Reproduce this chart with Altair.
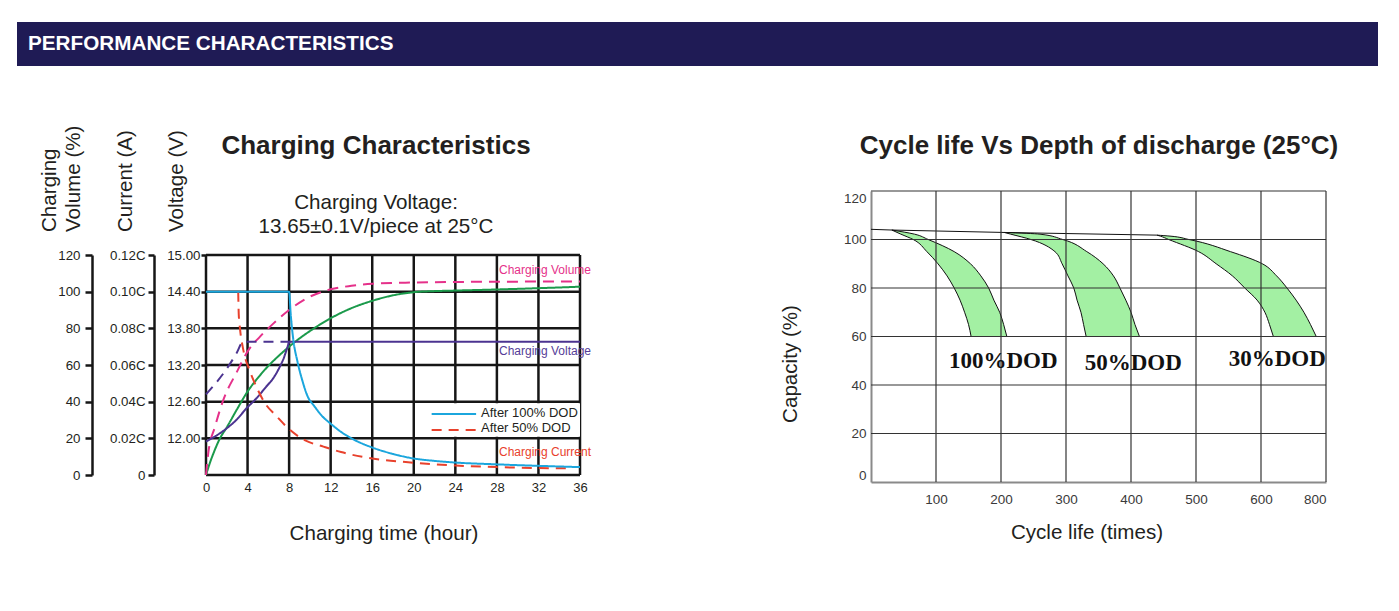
import altair as alt
import pandas as pd

SANS = "Liberation Sans, Arial, Helvetica, sans-serif"
NARROW = "Liberation Sans Narrow, Arial Narrow, Liberation Sans, Arial, sans-serif"
SERIF = "Liberation Serif, Times New Roman, serif"
INK = "#231f20"

# ---------------- texts ----------------
HEADER = "PERFORMANCE CHARACTERISTICS"
LEFT_TITLE = "Charging Characteristics"
LEFT_SUB = ["Charging Voltage:", "13.65\u00b10.1V/piece at 25\u00b0C"]
LEFT_XTITLE = "Charging time (hour)"
LEFT_YTITLES = ["Charging", "Volume (%)", "Current (A)", "Voltage (V)"]
RIGHT_TITLE = "Cycle life Vs Depth of discharge (25\u00b0C)"
RIGHT_XTITLE = "Cycle life (times)"
RIGHT_YTITLE = "Capacity (%)"

# ---------------- left chart data ----------------
HOUR_TICKS = [0, 4, 8, 12, 16, 20, 24, 28, 32, 36]
LEVEL_TICKS = [0, 20, 40, 60, 80, 100, 120]
VOLUME_LABELS = ["0", "20", "40", "60", "80", "100", "120"]
CURRENT_LABELS = ["0", "0.02C", "0.04C", "0.06C", "0.08C", "0.10C", "0.12C"]
VOLTAGE_LABELS = ["", "12.00", "12.60", "13.20", "13.80", "14.40", "15.00"]

SERIES = ["vol100", "vol50", "volt100", "volt50", "cur50", "cur100"]
SERIES_COLORS = ["#1b9a4b", "#e5318a", "#4b3390", "#4b3390", "#e8412c", "#1ba6dd"]
SERIES_DASH = [[1, 0], [11, 7], [1, 0], [10, 7], [10, 7], [1, 0]]

CUR100_H = [0, 8, 8.15, 8.4, 8.8, 9.3, 9.7, 10.5, 11.2, 12, 13, 14, 16, 18, 20, 22, 24, 28, 32, 36]
CUR100_V = [100, 100, 88, 74, 62, 51, 44, 37, 32, 28, 23.5, 20, 15, 11.5, 9, 7.7, 6.8, 5.8, 5, 4.3]
CUR50_H = [3.1, 3.15, 3.27, 3.6, 4.2, 4.7, 5.7, 6.8, 8.1, 9.5, 11.3, 13, 16, 20, 24, 28, 32, 35]
CUR50_V = [100, 88, 80, 68, 57, 50, 39, 32, 24.5, 19, 15.5, 12.5, 9, 6.7, 5.2, 4.3, 3.8, 3.6]
VOL100_H = [0, 0.4, 0.8, 1.3, 2, 3, 4, 5, 6, 7, 8, 9, 10, 12, 14, 16, 18, 20, 22, 24, 28, 32, 36]
VOL100_V = [0, 7, 13, 19.5, 26, 36, 45.5, 53, 59.5, 65, 70, 74.5, 78.5, 85.5, 91, 95, 98, 99.7, 100.3, 100.6, 101.2, 101.9, 102.7]
VOL50_H = [0, 0.22, 0.87, 1.67, 2.95, 4.07, 5.2, 6.5, 8, 9.7, 12, 14, 16, 20, 24, 28, 32, 36]
VOL50_V = [0, 12, 26.4, 41, 56, 68, 75.5, 82.7, 90, 96.4, 101.3, 103.2, 104.3, 105, 105.3, 105.4, 105.5, 105.5]
VOLT100_H = [0, 1, 2, 3, 3.9, 4.8, 5.8, 6.5, 7.1, 7.5, 7.8, 8.05, 12, 16, 20, 24, 28, 32, 36]
VOLT100_V = [18.2, 21.5, 25.5, 30.5, 36.4, 41.5, 48.2, 53, 59, 64, 69, 72.7, 72.7, 72.7, 72.7, 72.7, 72.7, 72.7, 72.7]
VOLT50_H = [0, 1, 2, 2.9, 3.6, 8.05]
VOLT50_V = [44, 50.5, 58, 66, 72.7, 72.7]

CURVE_LABELS = ["Charging Volume", "Charging Voltage", "Charging Current"]
CURVE_LABEL_H = [28.2, 28.2, 28.2]
CURVE_LABEL_V = [112, 67.4, 12.8]
CURVE_LABEL_COLORS = ["#e5318a", "#553c97", "#e8412c"]

LEGEND_TEXT = ["After 100% DOD", "After 50% DOD"]
LEGEND_SERIES = ["cur100", "cur50"]
LEGEND_V = [33.3, 24.5]
LEGEND_TEXT_V = [33.8, 25.6]
LEGEND_H = [21.72, 26.0, 26.47]
LEGEND_BOX = [21.3, 36, 20.8, 39.2]

# ---------------- right chart data ----------------
CAP_TICKS = [0, 20, 40, 60, 80, 100, 120]
CYCLE_TICKS = [0, 100, 200, 300, 400, 500, 600, 700]
CYCLE_LABELS = ["", "100", "200", "300", "400", "500", "600", "800"]

B100_CAP = [103.9, 102.2, 100, 95, 90, 85, 80, 75, 70, 65, 60]
B100_INNER = [32, 46, 65, 86, 103, 117, 128, 137, 144, 150, 154]
B100_OUTER = [32, 67, 88, 128, 153, 169, 181, 189, 198, 204, 209]
B50_CAP = [102.9, 102.2, 100, 95, 90, 85, 80, 75, 70, 65, 60]
B50_INNER = [205, 215, 246, 283, 294, 303, 312, 317, 323, 327, 331]
B50_OUTER = [205, 260, 295, 332, 357, 373, 383, 392, 400, 406, 413]
B30_CAP = [101.8, 101.4, 100, 95, 90, 85, 80, 75, 70, 65, 60]
B30_INNER = [440, 445, 458, 504, 531, 556, 575, 594, 606, 613, 619]
B30_OUTER = [440, 460, 489, 553, 602, 624, 640, 654, 666, 676, 685]
TOP_X = [0, 32, 205, 440]
TOP_Y = [104.2, 103.9, 102.9, 101.8]

DOD_TEXT = ["100%DOD", "50%DOD", "30%DOD"]
DOD_X = [203.5, 403.5, 625]
DOD_Y = [47, 46.2, 47.8]

# ---------------- scales (pixel placement of the two plots) ----------------
L_X = alt.Scale(domain=[0, 36], range=[206, 580], nice=False, zero=False)
L_Y = alt.Scale(domain=[0, 120], range=[475, 255], nice=False, zero=False)
R_X = alt.Scale(domain=[0, 700], range=[871, 1326], nice=False, zero=False)
R_Y = alt.Scale(domain=[0, 120], range=[482, 191], nice=False, zero=False)
W, H = 1399, 611
TXT = 20.6


def label_expr(values, labels):
    vals = ",".join(str(v) for v in values)
    labs = ",".join("'" + s + "'" for s in labels)
    return "[" + labs + "][indexof([" + vals + "], datum.value)]"


def txt(s, x, y, size, weight="normal", color=INK, angle=0, align="center",
        baseline="alphabetic", font=SANS):
    props = dict(fontSize=size, fontWeight=weight, color=color, align=align,
                 baseline=baseline, font=font)
    if angle:
        props["angle"] = angle
    return alt.Chart(pd.DataFrame({"t": [s]})).mark_text(**props).encode(
        text="t:N", x=alt.value(x), y=alt.value(y))


def y_axis_layer(values, scale, axis):
    return alt.Chart(pd.DataFrame({"v": values})).mark_point(opacity=0).encode(
        y=alt.Y("v:Q", scale=scale, axis=axis))


def x_axis_layer(values, scale, axis):
    return alt.Chart(pd.DataFrame({"v": values})).mark_point(opacity=0).encode(
        x=alt.X("v:Q", scale=scale, axis=axis))


# ---------------- left chart ----------------
gv = pd.DataFrame({"h": HOUR_TICKS, "lo": 0, "hi": 120})
left_gv = alt.Chart(gv).mark_rule(color="#161616", strokeWidth=2.5).encode(
    x=alt.X("h:Q", scale=L_X, axis=None),
    y=alt.Y("lo:Q", scale=L_Y, axis=None), y2="hi:Q")

gh = pd.DataFrame({"v": LEVEL_TICKS, "lo": 0, "hi": 36})
left_gh = alt.Chart(gh).mark_rule(color="#161616", strokeWidth=2.5).encode(
    y=alt.Y("v:Q", scale=L_Y, axis=None),
    x=alt.X("lo:Q", scale=L_X, axis=None), x2="hi:Q")

box = pd.DataFrame({"x1": [LEGEND_BOX[0]], "x2": [LEGEND_BOX[1]],
                    "y1": [LEGEND_BOX[2]], "y2": [LEGEND_BOX[3]]})
legend_box = alt.Chart(box).mark_rect(color="white").encode(
    x=alt.X("x1:Q", scale=L_X, axis=None), x2="x2:Q",
    y=alt.Y("y1:Q", scale=L_Y, axis=None), y2="y2:Q")

rows = []
for name, hs, vs in [("vol100", VOL100_H, VOL100_V), ("vol50", VOL50_H, VOL50_V),
                     ("volt100", VOLT100_H, VOLT100_V), ("volt50", VOLT50_H, VOLT50_V),
                     ("cur50", CUR50_H, CUR50_V), ("cur100", CUR100_H, CUR100_V)]:
    for h, v in zip(hs, vs):
        rows.append({"series": name, "h": h, "v": v})
curve_df = pd.DataFrame(rows)

color_scale = alt.Scale(domain=SERIES, range=SERIES_COLORS)
dash_scale = alt.Scale(domain=SERIES, range=SERIES_DASH)

curves = alt.Chart(curve_df).mark_line(strokeWidth=2, interpolate="monotone").encode(
    x=alt.X("h:Q", scale=L_X, axis=None),
    y=alt.Y("v:Q", scale=L_Y, axis=None),
    color=alt.Color("series:N", scale=color_scale, legend=None),
    strokeDash=alt.StrokeDash("series:N", scale=dash_scale, legend=None),
    detail="series:N")

curve_label_layers = []
for s, h, v, c in zip(CURVE_LABELS, CURVE_LABEL_H, CURVE_LABEL_V, CURVE_LABEL_COLORS):
    curve_label_layers.append(
        alt.Chart(pd.DataFrame({"t": [s], "h": [h], "v": [v]})).mark_text(
            align="left", baseline="middle", font=SANS, fontSize=12, color=c).encode(
            text="t:N", x=alt.X("h:Q", scale=L_X, axis=None),
            y=alt.Y("v:Q", scale=L_Y, axis=None)))

leg_df = pd.DataFrame({"series": LEGEND_SERIES, "h1": LEGEND_H[0], "h2": LEGEND_H[1],
                       "v": LEGEND_V})
legend_lines = alt.Chart(leg_df).mark_rule(strokeWidth=2).encode(
    x=alt.X("h1:Q", scale=L_X, axis=None), x2="h2:Q",
    y=alt.Y("v:Q", scale=L_Y, axis=None),
    color=alt.Color("series:N", scale=color_scale, legend=None),
    strokeDash=alt.StrokeDash("series:N", scale=dash_scale, legend=None))

legt_df = pd.DataFrame({"t": LEGEND_TEXT, "h": LEGEND_H[2], "v": LEGEND_TEXT_V})
legend_text = alt.Chart(legt_df).mark_text(
    align="left", baseline="middle", font=SANS, fontSize=13, color=INK).encode(
    text="t:N", x=alt.X("h:Q", scale=L_X, axis=None),
    y=alt.Y("v:Q", scale=L_Y, axis=None))

common = dict(orient="left", grid=False, labelFont=SANS, labelFontSize=13.3,
              labelColor=INK, tickColor="#161616", tickWidth=2.5, title=None,
              labelFlush=False)
volt_axis = alt.Axis(offset=-206, values=LEVEL_TICKS[1:],
                     labelExpr=label_expr(LEVEL_TICKS, VOLTAGE_LABELS),
                     domain=False, tickSize=5, labelPadding=1, **common)
cur_axis = alt.Axis(offset=-154, values=LEVEL_TICKS,
                    labelExpr=label_expr(LEVEL_TICKS, CURRENT_LABELS),
                    domain=True, domainColor="#161616", domainWidth=2.5,
                    tickSize=6, labelPadding=3, **common)
vol_axis = alt.Axis(offset=-92, values=LEVEL_TICKS,
                    labelExpr=label_expr(LEVEL_TICKS, VOLUME_LABELS),
                    domain=True, domainColor="#161616", domainWidth=2.5,
                    tickSize=7, labelPadding=5, **common)
left_x_axis = alt.Axis(orient="bottom", offset=475 - H, values=HOUR_TICKS, domain=False,
                       ticks=False, grid=False, labelFont=SANS, labelFontSize=13,
                       labelColor=INK, labelPadding=6, labelFlush=False, title=None)

left = alt.layer(
    left_gv, left_gh, legend_box, curves, *curve_label_layers, legend_lines, legend_text,
    x_axis_layer(HOUR_TICKS, L_X, left_x_axis),
    y_axis_layer(LEVEL_TICKS, L_Y, volt_axis),
    y_axis_layer(LEVEL_TICKS, L_Y, cur_axis),
    y_axis_layer(LEVEL_TICKS, L_Y, vol_axis),
).resolve_axis(x="independent", y="independent")

# ---------------- right chart ----------------
brows = []
for name, caps, inner, outer in [("100", B100_CAP, B100_INNER, B100_OUTER),
                                 ("50", B50_CAP, B50_INNER, B50_OUTER),
                                 ("30", B30_CAP, B30_INNER, B30_OUTER)]:
    for c, a, b in zip(caps, inner, outer):
        brows.append({"band": name, "cap": c, "inner": a, "outer": b})
band_df = pd.DataFrame(brows)

bands = alt.Chart(band_df).mark_area(
    orient="horizontal", interpolate="monotone", fill="#a3f0a3",
    stroke="#111111", strokeWidth=1).encode(
    y=alt.Y("cap:Q", scale=R_Y, axis=None),
    x=alt.X("inner:Q", scale=R_X, axis=None), x2="outer:Q",
    detail="band:N")

top_line = alt.Chart(pd.DataFrame({"x": TOP_X, "y": TOP_Y})).mark_line(
    color="#111111", strokeWidth=1).encode(
    x=alt.X("x:Q", scale=R_X, axis=None), y=alt.Y("y:Q", scale=R_Y, axis=None))

rgv = pd.DataFrame({"c": CYCLE_TICKS[1:], "lo": 0, "hi": 120})
right_gv = alt.Chart(rgv).mark_rule(color="#333333", strokeWidth=1.2).encode(
    x=alt.X("c:Q", scale=R_X, axis=None),
    y=alt.Y("lo:Q", scale=R_Y, axis=None), y2="hi:Q")

rgh = pd.DataFrame({"p": CAP_TICKS[1:], "lo": 0, "hi": 700})
right_gh = alt.Chart(rgh).mark_rule(color="#333333", strokeWidth=1.2).encode(
    y=alt.Y("p:Q", scale=R_Y, axis=None),
    x=alt.X("lo:Q", scale=R_X, axis=None), x2="hi:Q")

dod = alt.Chart(pd.DataFrame({"t": DOD_TEXT, "x": DOD_X, "y": DOD_Y})).mark_text(
    font=SERIF, fontWeight="bold", fontSize=23, color="#111111",
    align="center", baseline="alphabetic").encode(
    text="t:N", x=alt.X("x:Q", scale=R_X, axis=None),
    y=alt.Y("y:Q", scale=R_Y, axis=None))

right_x_axis = alt.Axis(
    orient="bottom", offset=482 - H, values=CYCLE_TICKS[1:],
    labelExpr=label_expr(CYCLE_TICKS, CYCLE_LABELS), labelFlush=True,
    domain=True, domainColor="#8a8a8a", domainWidth=2, ticks=False, grid=False,
    labelFont=NARROW, labelFontSize=13.5, labelColor="#3a3a3a", labelPadding=10,
    title=None)
right_y_axis = alt.Axis(
    orient="left", offset=-871, values=CAP_TICKS, labelFlush=True,
    domain=True, domainColor="#8a8a8a", domainWidth=2, ticks=False, grid=False,
    labelFont=NARROW, labelFontSize=13.5, labelColor="#3a3a3a", labelPadding=5,
    title=None)

right = alt.layer(
    bands, top_line, right_gv, right_gh, dod,
    x_axis_layer(CYCLE_TICKS, R_X, right_x_axis),
    y_axis_layer(CAP_TICKS, R_Y, right_y_axis),
).resolve_axis(x="independent", y="independent")

# ---------------- header and titles ----------------
header_bar = alt.Chart(pd.DataFrame({"a": [0]})).mark_rect(color="#1f1b55").encode(
    x=alt.value(17), x2=alt.value(1378), y=alt.value(22), y2=alt.value(66))

texts = [
    txt(HEADER, 28, 44, 20.7, weight="bold", color="white", align="left", baseline="middle"),
    txt(LEFT_TITLE, 376, 154, 26, weight="bold"),
    txt(LEFT_SUB[0], 376, 209, TXT),
    txt(LEFT_SUB[1], 376, 233, TXT),
    txt(LEFT_XTITLE, 384, 540, TXT),
    txt(LEFT_YTITLES[0], 56, 232, TXT, angle=270, align="left"),
    txt(LEFT_YTITLES[1], 80, 232, TXT, angle=270, align="left"),
    txt(LEFT_YTITLES[2], 132, 232, TXT, angle=270, align="left"),
    txt(LEFT_YTITLES[3], 183, 232, TXT, angle=270, align="left"),
    txt(RIGHT_TITLE, 1099, 154, 26, weight="bold"),
    txt(RIGHT_XTITLE, 1087, 539, TXT),
    txt(RIGHT_YTITLE, 797, 364, TXT, angle=270, align="center"),
]

chart = alt.layer(header_bar, left, right, *texts).resolve_scale(
    x="independent", y="independent", color="independent", strokeDash="independent"
).properties(
    width=W, height=H, padding=0, autosize=alt.AutoSizeParams(type="none")
).configure_view(stroke=None)

chart.save("out.html", embed_options={"renderer": "svg", "actions": False})
